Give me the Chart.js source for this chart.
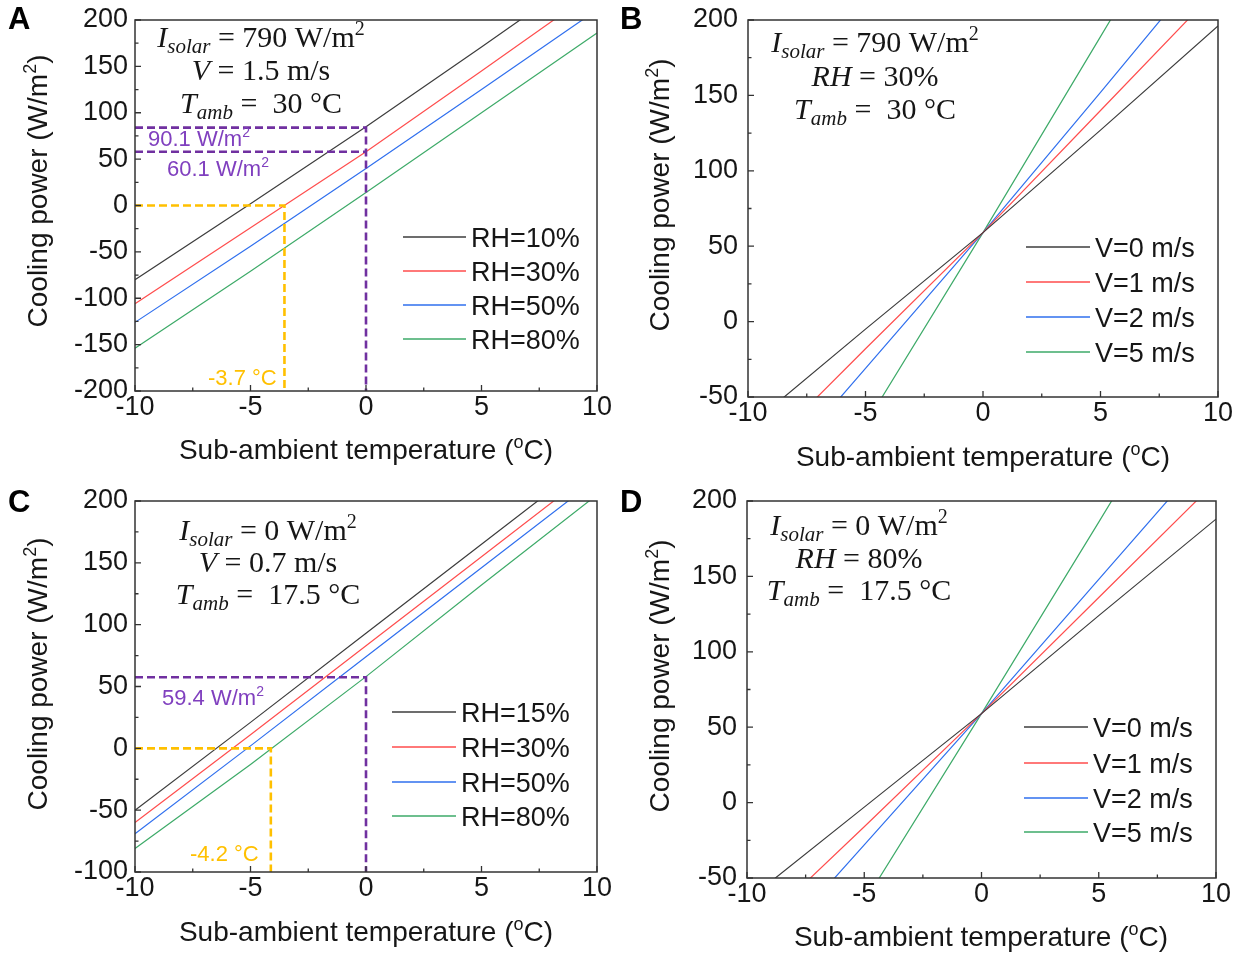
<!DOCTYPE html>
<html>
<head>
<meta charset="utf-8">
<script src="https://cdn.jsdelivr.net/npm/chart.js@4.4.0/dist/chart.umd.min.js"></script>
<style>
html,body{margin:0;padding:0;background:#fff;}
#wrap{position:relative;width:1241px;height:955px;overflow:hidden;background:#fff;}
canvas{position:absolute;}
</style>
</head>
<body>
<div id="wrap">
<canvas id="cA" width="620" height="478" style="left:0px;top:0px;width:620px;height:478px"></canvas>
<canvas id="cB" width="621" height="478" style="left:620px;top:0px;width:621px;height:478px"></canvas>
<canvas id="cC" width="620" height="477" style="left:0px;top:478px;width:620px;height:477px"></canvas>
<canvas id="cD" width="621" height="477" style="left:620px;top:478px;width:621px;height:477px"></canvas>
</div>
<script>
// ---------------- DATA ----------------
const xValues = [-10, -5, 0, 5, 10];            // sub-ambient temperature (°C)
const xTicks = [-10, -5, 0, 5, 10];

// Panel A : RH series, Isolar=790, V=1.5, Tamb=30
const legendA = ['RH=10%', 'RH=30%', 'RH=50%', 'RH=80%'];
const powerA_RH10 = [-80, 2, 85, 171, 258];
const powerA_RH30 = [-106, -24, 58, 145, 233];
const powerA_RH50 = [-126, -44, 40, 125, 211];
const powerA_RH80 = [-154, -71, 14, 100, 186];
const guideA_purpleHigh_x = [-10, 0, 0];
const guideA_purpleHigh_y = [84, 84, -200];
const guideA_purpleLow_x = [-10, 0];
const guideA_purpleLow_y = [58, 58];
const guideA_yellow_x = [-10, -3.53, -3.53];
const guideA_yellow_y = [0, 0, -200];

// Panel B : wind speed series, Isolar=790, RH=30%, Tamb=30
const legendB = ['V=0 m/s', 'V=1 m/s', 'V=2 m/s', 'V=5 m/s'];
const powerB_V0 = [-70, -5, 59, 127, 196];
const powerB_V1 = [-96, -18, 59, 140, 221];
const powerB_V2 = [-121, -31, 59, 152, 246];
const powerB_V5 = [-196, -68, 59, 189, 319];

// Panel C : RH series, Isolar=0, V=0.7, Tamb=17.5
const legendC = ['RH=15%', 'RH=30%', 'RH=50%', 'RH=80%'];
const powerC_RH15 = [-50, 21, 93, 165, 237];
const powerC_RH30 = [-60, 11, 83, 155, 227];
const powerC_RH50 = [-69, 2, 74, 146, 218];
const powerC_RH80 = [-81, -13, 58, 132, 205];
const guideC_purple_x = [-10, 0, 0];
const guideC_purple_y = [57.5, 57.5, -100];
const guideC_yellow_x = [-10, -4.12, -4.12];
const guideC_yellow_y = [0, 0, -100];

// Panel D : wind speed series, Isolar=0, RH=80%, Tamb=17.5
const legendD = ['V=0 m/s', 'V=1 m/s', 'V=2 m/s', 'V=5 m/s'];
const powerD_V0 = [-65, -3, 59, 124, 188];
const powerD_V1 = [-90, -16, 59, 136, 213];
const powerD_V2 = [-115, -28, 59, 148, 237];
const powerD_V5 = [-190, -66, 59, 186, 314];

const yTitleText = ['Cooling power (W/m', '2', ')'];
const xTitleText = ['Sub-ambient temperature (', 'o', 'C)'];
const notesA = [['90.1 W/m', '2'], ['60.1 W/m', '2'], ['-3.7 °C', '']];
const notesC = [['59.4 W/m', '2'], ['-4.2 °C', '']];

// ---------------- STYLE ----------------
const SANS = '"Liberation Sans", Arial, sans-serif';
const SERIF = '"Liberation Serif", "Times New Roman", serif';
const seriesColors = ['#3c3c3c', '#ff4d4d', '#2f6fee', '#3daa68'];
const PURPLE = '#7030a0', PURPLE_TXT = '#8040bf', YELLOW = '#ffc000';
const TXT = '#161616';

function pts(xs, ys) { return xs.map((x, i) => ({ x: x, y: ys[i] })); }

function mathLine(kind, a) {
  const big = `30px ${SERIF}`, it = `italic 30px ${SERIF}`, sub = `italic 21px ${SERIF}`, sup = `20px ${SERIF}`;
  if (kind === 'I') return [{t:'I', f:it}, {t:'solar', f:sub, dy:6}, {t:' = ' + a + ' W/m', f:big}, {t:'2', f:sup, dy:-12}];
  if (kind === 'V') return [{t:'V', f:it}, {t:' = ' + a + ' m/s', f:big}];
  if (kind === 'RH') return [{t:'RH', f:it}, {t:' = ' + a, f:big}];
  if (kind === 'T') return [{t:'T', f:it}, {t:'amb', f:sub, dy:6}, {t:' =  ' + a + ' °C', f:big}];
}

const PANELS = {
  cA: { padTop:20, padRight:23, yW:135, xH:87, yMin:-200, yPad:7,
        letter:['A', 8, 29], yTitle:[47, 191], xTitle:[366, 459],
        params:{cx:261, ys:[47, 80, 113], lines:[mathLine('I','790'), mathLine('V','1.5'), mathLine('T','30')]},
        legend:{labels:legendA, x1:403, x2:466, tx:471, ys:[237, 271, 305, 339]},
        notes:[{s:notesA[0], x:148, y:146, c:PURPLE_TXT}, {s:notesA[1], x:167, y:176, c:PURPLE_TXT}, {s:notesA[2], x:208, y:385, c:YELLOW}] },
  cB: { padTop:20, padRight:23, yW:128, xH:81, yMin:-50, yPad:10,
        letter:['B', 0, 29], yTitle:[49, 195], xTitle:[363, 466],
        params:{cx:255, ys:[52, 86, 119], lines:[mathLine('I','790'), mathLine('RH','30%'), mathLine('T','30')]},
        legend:{labels:legendB, x1:406, x2:470, tx:475, ys:[247, 282, 317, 352]},
        notes:[] },
  cC: { padTop:23, padRight:23, yW:135, xH:83, yMin:-100, yPad:7,
        letter:['C', 8, 34], yTitle:[47, 196], xTitle:[366, 463],
        params:{cx:268, ys:[62, 94, 126], lines:[mathLine('I','0'), mathLine('V','0.7'), mathLine('T','17.5')]},
        legend:{labels:legendC, x1:392, x2:456, tx:461, ys:[234, 269, 304, 338]},
        notes:[{s:notesC[0], x:162, y:227, c:PURPLE_TXT}, {s:notesC[1], x:190, y:383, c:YELLOW}] },
  cD: { padTop:23, padRight:25, yW:127, xH:77, yMin:-50, yPad:10,
        letter:['D', 0, 34], yTitle:[49, 198], xTitle:[361, 468],
        params:{cx:239, ys:[57, 90, 122], lines:[mathLine('I','0'), mathLine('RH','80%'), mathLine('T','17.5')]},
        legend:{labels:legendD, x1:404, x2:468, tx:473, ys:[249, 285, 320, 354]},
        notes:[] }
};

function drawSegs(ctx, list, x, y, align, color) {
  let w = 0;
  const ws = list.map(s => { ctx.font = s.f; const m = ctx.measureText(s.t).width; w += m; return m; });
  let cx = align === 'center' ? x - w / 2 : x;
  ctx.textAlign = 'left';
  ctx.textBaseline = 'alphabetic';
  list.forEach((s, i) => {
    ctx.font = s.f; ctx.fillStyle = s.c || color || TXT;
    ctx.fillText(s.t, cx, y + (s.dy || 0));
    cx += ws[i];
  });
}

const decorPlugin = {
  id: 'decor',
  afterDraw(chart) {
    const P = PANELS[chart.canvas.id];
    const ctx = chart.ctx, a = chart.chartArea, xs = chart.scales.x, ys = chart.scales.y;
    ctx.save();
    // ticks (inward, major + minor)
    ctx.strokeStyle = '#333'; ctx.lineWidth = 1.3;
    const xv = xs.ticks.map(t => t.value), yv = ys.ticks.map(t => t.value);
    ctx.beginPath();
    xv.forEach((v, i) => {
      const p = xs.getPixelForValue(v);
      ctx.moveTo(p, a.bottom); ctx.lineTo(p, a.bottom - 6);
      if (i < xv.length - 1) { const m = xs.getPixelForValue((v + xv[i + 1]) / 2); ctx.moveTo(m, a.bottom); ctx.lineTo(m, a.bottom - 3.5); }
    });
    yv.forEach((v, i) => {
      const p = ys.getPixelForValue(v);
      ctx.moveTo(a.left, p); ctx.lineTo(a.left + 6, p);
      if (i < yv.length - 1) { const m = ys.getPixelForValue((v + yv[i + 1]) / 2); ctx.moveTo(a.left, m); ctx.lineTo(a.left + 3.5, m); }
    });
    ctx.stroke();
    // frame
    ctx.lineWidth = 1.5; ctx.strokeStyle = '#333';
    ctx.strokeRect(a.left, a.top, a.right - a.left, a.bottom - a.top);
    // axis titles
    const tf = `28px ${SANS}`, sf = `18px ${SANS}`;
    drawSegs(ctx, [{t:xTitleText[0], f:tf}, {t:xTitleText[1], f:sf, dy:-11}, {t:xTitleText[2], f:tf}], P.xTitle[0], P.xTitle[1], 'center');
    ctx.save();
    ctx.translate(P.yTitle[0], P.yTitle[1]);
    ctx.rotate(-Math.PI / 2);
    drawSegs(ctx, [{t:yTitleText[0], f:tf}, {t:yTitleText[1], f:sf, dy:-11}, {t:yTitleText[2], f:tf}], 0, 0, 'center');
    ctx.restore();
    // panel letter
    drawSegs(ctx, [{t:P.letter[0], f:`bold 31px ${SANS}`}], P.letter[1], P.letter[2], 'left', '#000');
    // parameter block
    P.params.lines.forEach((ln, i) => drawSegs(ctx, ln, P.params.cx, P.params.ys[i], 'center'));
    // legend
    const L = P.legend;
    L.labels.forEach((lab, i) => {
      const ds = chart.data.datasets.find(d => d.label === lab);
      ctx.strokeStyle = ds.borderColor; ctx.lineWidth = 1.3;
      ctx.beginPath(); ctx.moveTo(L.x1, L.ys[i]); ctx.lineTo(L.x2, L.ys[i]); ctx.stroke();
      drawSegs(ctx, [{t:lab, f:`27px ${SANS}`}], L.tx, L.ys[i] + 9.5, 'left');
    });
    // value notes
    P.notes.forEach(n => {
      const segs = [{t:n.s[0], f:`22px ${SANS}`}];
      if (n.s[1]) segs.push({t:n.s[1], f:`14px ${SANS}`, dy:-9});
      drawSegs(ctx, segs, n.x, n.y, 'left', n.c);
    });
    ctx.restore();
  }
};

function makeChart(id, seriesArr, labels, guides) {
  const P = PANELS[id];
  const datasets = [];
  guides.forEach(g => datasets.push({ label: '_guide', data: pts(g.x, g.y), borderColor: g.c, borderWidth: 2.6, borderDash: [8, 4], pointRadius: 0, fill: false, tension: 0 }));
  seriesArr.forEach((s, i) => datasets.push({ label: labels[i], data: pts(xValues, s), borderColor: seriesColors[i], borderWidth: 1.2, pointRadius: 0, fill: false, tension: 0 }));
  const tickFont = { family: SANS, size: 27 };
  return new Chart(document.getElementById(id), {
    type: 'line',
    data: { datasets },
    options: {
      responsive: false, animation: false, devicePixelRatio: 1,
      layout: { padding: { left: 0, top: P.padTop, right: P.padRight, bottom: 0 } },
      plugins: { legend: { display: false }, tooltip: { enabled: false } },
      scales: {
        x: { type: 'linear', min: -10, max: 10,
             afterBuildTicks: s => { s.ticks = xTicks.map(v => ({ value: v })); },
             ticks: { stepSize: 5, padding: 0, font: tickFont, color: TXT, maxRotation: 0, autoSkip: false, callback: v => String(v) },
             grid: { display: false, drawTicks: false }, border: { display: false },
             afterFit: s => { s.height = P.xH; } },
        y: { type: 'linear', min: P.yMin, max: 200,
             ticks: { stepSize: 50, padding: 0, font: tickFont, color: TXT, autoSkip: false, callback: v => String(v) },
             grid: { display: false, drawTicks: true, tickLength: P.yPad }, border: { display: false },
             afterFit: s => { s.width = P.yW; } }
      }
    },
    plugins: [decorPlugin]
  });
}

makeChart('cA', [powerA_RH10, powerA_RH30, powerA_RH50, powerA_RH80], legendA, [
  { x: guideA_purpleHigh_x, y: guideA_purpleHigh_y, c: PURPLE },
  { x: guideA_purpleLow_x, y: guideA_purpleLow_y, c: PURPLE },
  { x: guideA_yellow_x, y: guideA_yellow_y, c: YELLOW }
]);
makeChart('cB', [powerB_V0, powerB_V1, powerB_V2, powerB_V5], legendB, []);
makeChart('cC', [powerC_RH15, powerC_RH30, powerC_RH50, powerC_RH80], legendC, [
  { x: guideC_purple_x, y: guideC_purple_y, c: PURPLE },
  { x: guideC_yellow_x, y: guideC_yellow_y, c: YELLOW }
]);
makeChart('cD', [powerD_V0, powerD_V1, powerD_V2, powerD_V5], legendD, []);
</script>
</body>
</html>
